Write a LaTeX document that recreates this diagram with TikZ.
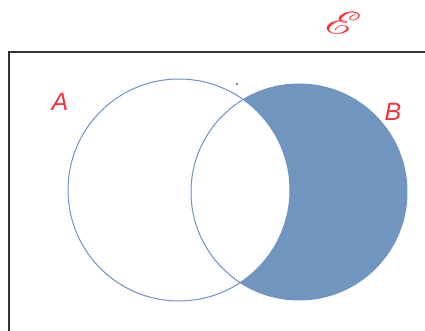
\documentclass[tikz,border=0pt]{standalone}
\usepackage{fontspec}
\setmainfont{Liberation Sans}
\usepackage{mathrsfs}
\usetikzlibrary{positioning}
\definecolor{setblue}{RGB}{112,150,192}
\definecolor{setline}{RGB}{110,146,196}
\definecolor{labelred}{RGB}{245,50,60}

\begin{document}
\begin{tikzpicture}[
    x=0.5pt, y=-0.5pt,
    setline/.style={draw=setline, line width=0.5pt},
    setlabel/.style={text=labelred, font=\fontsize{12.5}{14}\selectfont\itshape, inner sep=0pt},
    frame/.style={draw=black!80, line width=0.8pt},
]
\useasboundingbox (0,0) rectangle (425,331);

% centres of the two sets
\coordinate (cA) at (179,190);
\coordinate (cB) at (299,192);

% universal set
\draw[frame] (9,52) rectangle (440,345);
\node[text=labelred, inner sep=0pt, rotate=-8] (univ) at (343,23) {\scalebox{1.35}[1]{\fontsize{17}{19}\selectfont$\mathscr{E}$}};

% B minus A shaded
\fill[setblue] (cB) circle[radius=108];
\fill[white] (cA) circle[radius=111];

% outlines
\draw[setline] (cA) circle[radius=111];
\draw[setline] (cB) circle[radius=108];

% labels
\node[setlabel] (labA) at (60,102) {A};
\node[setlabel] (labB) at (393,112) {B};

% stray dot
\fill[black] (237,84) circle[radius=0.8];

\end{tikzpicture}
\end{document}
